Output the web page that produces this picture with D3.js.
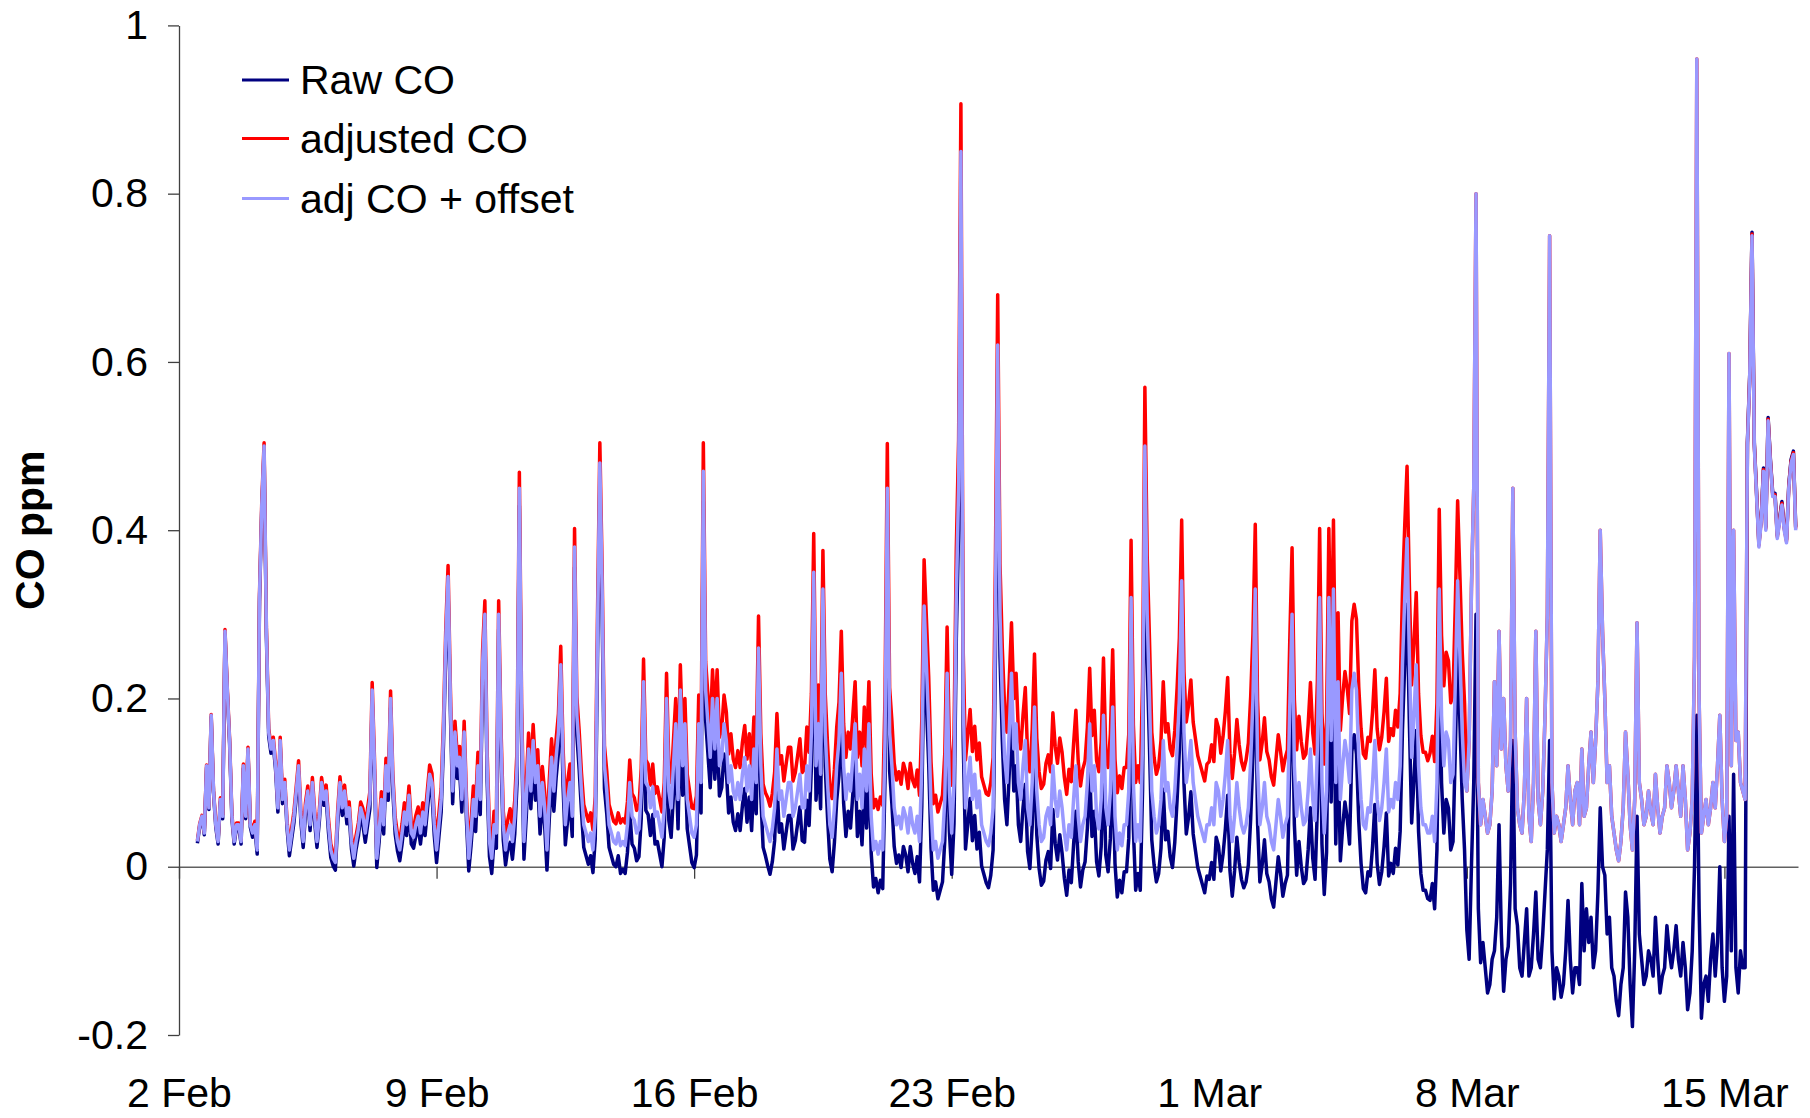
<!DOCTYPE html>
<html>
<head>
<meta charset="utf-8">
<script src="https://cdn.jsdelivr.net/npm/d3@7"></script>
<style>
  html, body { margin: 0; padding: 0; background: #ffffff; }
  svg { display: block; font-family: "Liberation Sans", Arial, Helvetica, sans-serif; }
</style>
</head>
<body>
<svg id="chart" width="1810" height="1118"></svg>
<script>
// ---- data -----------------------------------------------------------------
const seriesNames  = ["Raw CO", "adjusted CO", "adj CO + offset"];
const seriesColors = ["#000080", "#ff0000", "#9999ff"];

const yTickValues = [-0.2, 0, 0.2, 0.4, 0.6, 0.8, 1];
const yTickLabels = ["-0.2", "0", "0.2", "0.4", "0.6", "0.8", "1"];

const xTickDates  = ["2008-02-02", "2008-02-09", "2008-02-16", "2008-02-23", "2008-03-01", "2008-03-08", "2008-03-15"];
const xTickLabels = ["2 Feb", "9 Feb", "16 Feb", "23 Feb", "1 Mar", "8 Mar", "15 Mar"];
const xDomainDates = ["2008-02-02", "2008-03-17"];

// readings every 90 minutes, first one at 12:00 on 2 Feb
const firstReading = "2008-02-02 12:00";
const readingStepMinutes = 90;

// CO (ppm), one row per day
const rawCO = [
  0.028, 0.048, 0.058, 0.038, 0.118, 0.068, 0.178, 0.088,                                                   // 2 Feb
  0.047, 0.027, 0.077, 0.057, 0.277, 0.207, 0.147, 0.057, 0.027, 0.047, 0.047, 0.027, 0.117, 0.057, 0.137, 0.047, // 3 Feb
  0.035, 0.045, 0.015, 0.315, 0.425, 0.495, 0.275, 0.155, 0.135, 0.145, 0.115, 0.065, 0.145, 0.075, 0.095, 0.045, // 4 Feb
  0.013, 0.033, 0.053, 0.083, 0.113, 0.053, 0.023, 0.063, 0.083, 0.043, 0.093, 0.053, 0.023, 0.053, 0.093, 0.073, // 5 Feb
  0.081, 0.041, 0.011, 0.001, -0.004, 0.051, 0.091, 0.061, 0.081, 0.051, 0.061, 0.021, 0.001, 0.021, 0.036, 0.061, // 6 Feb
  0.049, 0.029, 0.049, 0.069, 0.199, 0.109, -0.001, 0.029, 0.069, 0.039, 0.109, 0.079, 0.189, 0.089, 0.039, 0.019, // 7 Feb
  0.007, 0.027, 0.052, 0.037, 0.072, 0.027, 0.022, 0.037, 0.047, 0.027, 0.052, 0.037, 0.067, 0.097, 0.087, 0.037, // 8 Feb
  0.005, 0.035, 0.065, 0.145, 0.255, 0.33, 0.185, 0.075, 0.145, 0.105, 0.115, 0.065, 0.145, 0.055, -0.005, 0.025,  // 9 Feb
  0.062, 0.042, 0.102, 0.062, 0.222, 0.282, 0.102, 0.012, -0.008, 0.032, 0.022, 0.282, 0.132, 0.032, 0.002, 0.022, // 10 Feb
  0.029, 0.009, 0.039, 0.099, 0.429, 0.149, 0.009, 0.059, 0.119, 0.069, 0.129, 0.079, 0.099, 0.039, 0.079, 0.049,  // 11 Feb
  -0.004, 0.056, 0.106, 0.066, 0.106, 0.136, 0.216, 0.096, 0.026, 0.056, 0.076, 0.036, 0.356, 0.156, 0.116, 0.066, // 12 Feb
  0.023, 0.013, 0.003, 0.013, -0.007, 0.033, 0.253, 0.453, 0.303, 0.093, 0.063, 0.023, 0.013, 0.003, 0.0, 0.013,    // 13 Feb
  -0.008, -0.003, -0.008, 0.017, 0.067, 0.027, 0.022, 0.007, 0.012, 0.057, 0.187, 0.067, 0.062, 0.037, 0.062, 0.027, // 14 Feb
  0.03, 0.015, 0.0, 0.035, 0.165, 0.055, 0.035, 0.085, 0.135, 0.045, 0.175, 0.085, 0.135, 0.045, 0.025, 0.005,       // 15 Feb
  -0.001, 0.014, 0.134, 0.064, 0.434, 0.174, 0.134, 0.094, 0.164, 0.104, 0.164, 0.084, 0.094, 0.134, 0.114, 0.064,  // 16 Feb
  0.083, 0.053, 0.043, 0.063, 0.043, 0.073, 0.093, 0.053, 0.083, 0.043, 0.103, 0.063, 0.223, 0.083, 0.023, 0.013,   // 17 Feb
  0.001, -0.009, 0.006, 0.031, 0.101, 0.041, 0.051, 0.021, 0.041, 0.061, 0.061, 0.021, 0.031, 0.051, 0.071, 0.031,  // 18 Feb
  0.029, 0.079, 0.049, 0.119, 0.309, 0.079, 0.129, 0.069, 0.289, 0.119, 0.059, 0.009, -0.006, 0.029, 0.079, 0.109,  // 19 Feb
  0.186, 0.076, 0.036, 0.066, 0.046, 0.086, 0.126, 0.036, 0.066, 0.026, 0.096, 0.046, 0.126, 0.016, -0.024, -0.014, // 20 Feb
  -0.031, -0.016, -0.026, 0.104, 0.404, 0.114, 0.074, 0.024, 0.004, 0.014, -0.001, 0.024, 0.014, -0.006, 0.024, 0.004, // 21 Feb
  -0.008, 0.012, -0.018, 0.072, 0.262, 0.192, 0.122, 0.022, -0.028, -0.018, -0.038, -0.028, -0.018, 0.032, 0.182, 0.042, // 22 Feb
  -0.009, 0.051, 0.271, 0.401, 0.801, 0.151, 0.021, 0.051, 0.081, 0.031, 0.061, 0.021, 0.041, 0.001, -0.009, -0.019, // 23 Feb
  -0.025, -0.01, 0.02, 0.25, 0.57, 0.25, 0.15, 0.08, 0.05, 0.11, 0.18, 0.09, 0.12, 0.05, 0.03, 0.07,               // 24 Feb
  0.098, 0.018, -0.002, 0.048, 0.138, 0.038, -0.002, -0.022, -0.017, 0.008, 0.018, -0.002, 0.068, 0.028, 0.008, 0.038, // 25 Feb
  0.016, -0.014, -0.034, -0.004, -0.019, 0.026, 0.066, 0.006, -0.024, -0.004, 0.006, 0.046, 0.116, 0.036, 0.066, 0.006, // 26 Feb
  -0.011, 0.024, 0.124, 0.014, -0.006, 0.034, 0.134, 0.004, -0.036, -0.016, -0.031, -0.006, -0.006, 0.034, 0.264, 0.044, // 27 Feb
  -0.028, -0.008, -0.028, 0.092, 0.442, 0.242, 0.142, 0.032, 0.002, -0.018, -0.008, 0.022, 0.092, 0.032, 0.042, 0.012, // 28 Feb
  -0.001, 0.029, 0.079, 0.139, 0.279, 0.099, 0.039, 0.059, 0.089, 0.039, 0.019, -0.001, -0.011, -0.021, -0.031, -0.011, // 29 Feb
  -0.015, 0.005, -0.015, 0.035, 0.025, -0.005, 0.015, 0.045, 0.085, -0.005, -0.035, -0.005, 0.035, 0.005, -0.015, -0.025, // 1 Mar
  -0.018, 0.002, 0.057, 0.132, 0.262, 0.052, -0.018, 0.002, 0.032, -0.008, -0.018, -0.038, -0.048, -0.018, 0.012, -0.008, // 2 Mar
  -0.035, -0.02, -0.01, 0.12, 0.23, 0.05, -0.01, 0.03, 0.0, -0.02, -0.015, 0.02, 0.07, 0.01, -0.015, 0.07,            // 3 Mar
  0.247, 0.027, -0.033, 0.017, 0.247, 0.077, 0.257, 0.027, 0.147, 0.007, 0.047, 0.077, 0.057, 0.027, 0.137, 0.157,    // 4 Mar
  0.134, 0.054, 0.004, -0.026, -0.031, -0.006, -0.011, 0.024, 0.074, 0.004, -0.021, -0.006, 0.024, 0.064, -0.011, 0.004, // 5 Mar
  -0.008, 0.022, 0.002, 0.042, 0.162, 0.242, 0.312, 0.172, 0.052, 0.102, 0.162, 0.042, -0.008, -0.028, -0.028, -0.038, // 6 Mar
  -0.04, -0.02, -0.05, 0.02, 0.25, 0.10, 0.04, 0.08, 0.07, 0.02, 0.03, 0.14, 0.26, 0.17, 0.08, 0.02,                // 7 Mar
  -0.075, -0.11, 0.0, 0.10, 0.30, -0.05, -0.114, -0.09, -0.12, -0.15, -0.14, -0.11, -0.10, -0.06, 0.05, -0.08,        // 8 Mar
  -0.148, -0.11, -0.095, -0.02, 0.15, -0.05, -0.07, -0.12, -0.13, -0.09, -0.05, -0.13, -0.12, -0.08, -0.03, -0.11,    // 9 Mar
  -0.12, -0.08, -0.03, 0.02, 0.15, -0.10, -0.157, -0.12, -0.13, -0.155, -0.14, -0.10, -0.04, -0.11, -0.15, -0.12,     // 10 Mar
  -0.12, -0.14, -0.02, -0.10, -0.05, -0.09, -0.06, -0.12, -0.10, -0.03, 0.07, 0.0, -0.01, -0.08, -0.06, -0.12,        // 11 Mar
  -0.13, -0.16, -0.177, -0.14, -0.12, -0.03, -0.06, -0.14, -0.19, -0.10, 0.06, -0.08, -0.11, -0.14, -0.13, -0.10,     // 12 Mar
  -0.11, -0.13, -0.06, -0.11, -0.15, -0.13, -0.12, -0.07, -0.10, -0.12, -0.10, -0.07, -0.11, -0.13, -0.09, -0.12,     // 13 Mar
  -0.17, -0.15, -0.10, 0.0, 0.18, -0.05, -0.18, -0.14, -0.13, -0.16, -0.11, -0.08, -0.13, -0.09, 0.0, -0.12,           // 14 Mar
  -0.16, -0.13, 0.06, -0.10, 0.11, -0.12, -0.15, -0.10, -0.12, -0.12, 0.504, 0.584, 0.754, 0.504, 0.444, 0.384,        // 15 Mar
  0.414, 0.474, 0.404, 0.534, 0.484, 0.444, 0.444, 0.394, 0.414, 0.434, 0.404, 0.389, 0.454, 0.484, 0.494, 0.404      // 16 Mar
];

const adjustedCO = [
  0.031, 0.051, 0.061, 0.041, 0.121, 0.071, 0.181, 0.091,                                                   // 2 Feb
  0.052, 0.032, 0.082, 0.062, 0.282, 0.212, 0.152, 0.062, 0.032, 0.052, 0.052, 0.032, 0.122, 0.062, 0.142, 0.052, // 3 Feb
  0.044, 0.054, 0.024, 0.324, 0.434, 0.504, 0.284, 0.164, 0.144, 0.154, 0.124, 0.074, 0.154, 0.084, 0.104, 0.054, // 4 Feb
  0.026, 0.046, 0.066, 0.096, 0.126, 0.066, 0.036, 0.076, 0.096, 0.056, 0.106, 0.066, 0.036, 0.066, 0.106, 0.086, // 5 Feb
  0.097, 0.057, 0.027, 0.017, 0.012, 0.067, 0.107, 0.077, 0.097, 0.067, 0.077, 0.037, 0.017, 0.037, 0.052, 0.077, // 6 Feb
  0.069, 0.049, 0.069, 0.089, 0.219, 0.129, 0.019, 0.049, 0.089, 0.059, 0.129, 0.099, 0.209, 0.109, 0.059, 0.039, // 7 Feb
  0.031, 0.051, 0.076, 0.061, 0.096, 0.051, 0.046, 0.061, 0.071, 0.051, 0.076, 0.061, 0.091, 0.121, 0.111, 0.061, // 8 Feb
  0.033, 0.063, 0.093, 0.173, 0.283, 0.358, 0.213, 0.103, 0.173, 0.133, 0.143, 0.093, 0.173, 0.083, 0.023, 0.053, // 9 Feb
  0.096, 0.076, 0.136, 0.096, 0.256, 0.316, 0.136, 0.046, 0.026, 0.066, 0.056, 0.316, 0.166, 0.066, 0.036, 0.056, // 10 Feb
  0.069, 0.049, 0.079, 0.139, 0.469, 0.189, 0.049, 0.099, 0.159, 0.109, 0.169, 0.119, 0.139, 0.079, 0.119, 0.089, // 11 Feb
  0.042, 0.102, 0.152, 0.112, 0.152, 0.182, 0.262, 0.142, 0.072, 0.102, 0.122, 0.082, 0.402, 0.202, 0.162, 0.112, // 12 Feb
  0.074, 0.064, 0.054, 0.064, 0.044, 0.084, 0.304, 0.504, 0.354, 0.144, 0.114, 0.074, 0.064, 0.054, 0.051, 0.064, // 13 Feb
  0.052, 0.057, 0.052, 0.077, 0.127, 0.087, 0.082, 0.067, 0.072, 0.117, 0.247, 0.127, 0.122, 0.097, 0.122, 0.087, // 14 Feb
  0.095, 0.08, 0.065, 0.10, 0.23, 0.12, 0.10, 0.15, 0.20, 0.11, 0.24, 0.15, 0.20, 0.11, 0.09, 0.07,               // 15 Feb
  0.069, 0.084, 0.204, 0.134, 0.504, 0.244, 0.204, 0.164, 0.234, 0.174, 0.234, 0.154, 0.164, 0.204, 0.184, 0.134, // 16 Feb
  0.158, 0.128, 0.118, 0.138, 0.118, 0.148, 0.168, 0.128, 0.158, 0.118, 0.178, 0.138, 0.298, 0.158, 0.098, 0.088, // 17 Feb
  0.082, 0.072, 0.087, 0.112, 0.182, 0.122, 0.132, 0.102, 0.122, 0.142, 0.142, 0.102, 0.112, 0.132, 0.152, 0.112, // 18 Feb
  0.116, 0.166, 0.136, 0.206, 0.396, 0.166, 0.216, 0.156, 0.376, 0.206, 0.146, 0.096, 0.081, 0.116, 0.166, 0.196, // 19 Feb
  0.28, 0.17, 0.13, 0.16, 0.14, 0.18, 0.22, 0.13, 0.16, 0.12, 0.19, 0.14, 0.22, 0.11, 0.07, 0.08,                 // 20 Feb
  0.068, 0.083, 0.073, 0.203, 0.503, 0.213, 0.173, 0.123, 0.103, 0.113, 0.098, 0.123, 0.113, 0.093, 0.123, 0.103, // 21 Feb
  0.095, 0.115, 0.085, 0.175, 0.365, 0.295, 0.225, 0.125, 0.075, 0.085, 0.065, 0.075, 0.085, 0.135, 0.285, 0.145, // 22 Feb
  0.097, 0.157, 0.377, 0.507, 0.907, 0.257, 0.127, 0.157, 0.187, 0.137, 0.167, 0.127, 0.147, 0.107, 0.097, 0.087, // 23 Feb
  0.085, 0.10, 0.13, 0.36, 0.68, 0.36, 0.26, 0.19, 0.16, 0.22, 0.29, 0.20, 0.23, 0.16, 0.14, 0.18,                // 24 Feb
  0.213, 0.133, 0.113, 0.163, 0.253, 0.153, 0.113, 0.093, 0.098, 0.123, 0.133, 0.113, 0.183, 0.143, 0.123, 0.153, // 25 Feb
  0.136, 0.106, 0.086, 0.116, 0.101, 0.146, 0.186, 0.126, 0.096, 0.116, 0.126, 0.166, 0.236, 0.156, 0.186, 0.126, // 26 Feb
  0.113, 0.148, 0.248, 0.138, 0.118, 0.158, 0.258, 0.128, 0.088, 0.108, 0.093, 0.118, 0.118, 0.158, 0.388, 0.168, // 27 Feb
  0.10, 0.12, 0.10, 0.22, 0.57, 0.37, 0.27, 0.16, 0.13, 0.11, 0.12, 0.15, 0.22, 0.16, 0.17, 0.14,                 // 28 Feb
  0.132, 0.162, 0.212, 0.272, 0.412, 0.232, 0.172, 0.192, 0.222, 0.172, 0.152, 0.132, 0.122, 0.112, 0.102, 0.122, // 29 Feb
  0.125, 0.145, 0.125, 0.175, 0.165, 0.135, 0.155, 0.185, 0.225, 0.135, 0.105, 0.135, 0.175, 0.145, 0.125, 0.115, // 1 Mar
  0.127, 0.147, 0.202, 0.277, 0.407, 0.197, 0.127, 0.147, 0.177, 0.137, 0.127, 0.107, 0.097, 0.127, 0.157, 0.137, // 2 Mar
  0.114, 0.129, 0.139, 0.269, 0.379, 0.199, 0.139, 0.179, 0.149, 0.129, 0.134, 0.169, 0.219, 0.159, 0.134, 0.219, // 3 Mar
  0.402, 0.182, 0.122, 0.172, 0.402, 0.232, 0.412, 0.182, 0.302, 0.162, 0.202, 0.232, 0.212, 0.182, 0.292, 0.312, // 4 Mar
  0.294, 0.214, 0.164, 0.134, 0.129, 0.154, 0.149, 0.184, 0.234, 0.164, 0.139, 0.154, 0.184, 0.224, 0.149, 0.164, // 5 Mar
  0.156, 0.186, 0.166, 0.206, 0.326, 0.406, 0.476, 0.336, 0.216, 0.266, 0.326, 0.206, 0.156, 0.136, 0.136, 0.126, // 6 Mar
  0.135, 0.155, 0.125, 0.195, 0.425, 0.275, 0.215, 0.255, 0.245, 0.195, 0.205, 0.315, 0.435, 0.345, 0.255, 0.195, // 7 Mar
  0.09, 0.15, 0.33, 0.45, 0.80, 0.10, 0.05, 0.08, 0.06, 0.04, 0.05, 0.09, 0.22, 0.12, 0.28, 0.14,                 // 8 Mar
  0.20, 0.12, 0.09, 0.15, 0.45, 0.16, 0.07, 0.05, 0.04, 0.09, 0.20, 0.06, 0.03, 0.10, 0.28, 0.08,                 // 9 Mar
  0.05, 0.09, 0.18, 0.30, 0.75, 0.10, 0.04, 0.06, 0.05, 0.03, 0.05, 0.07, 0.12, 0.08, 0.05, 0.09,                 // 10 Mar
  0.10, 0.05, 0.14, 0.06, 0.07, 0.12, 0.16, 0.10, 0.15, 0.22, 0.40, 0.28, 0.20, 0.10, 0.12, 0.06,                 // 11 Mar
  0.04, 0.02, 0.007, 0.03, 0.07, 0.16, 0.11, 0.05, 0.02, 0.08, 0.29, 0.10, 0.08, 0.05, 0.06, 0.09,                // 12 Mar
  0.065, 0.05, 0.11, 0.07, 0.04, 0.06, 0.07, 0.12, 0.10, 0.07, 0.09, 0.12, 0.09, 0.06, 0.12, 0.08,                // 13 Mar
  0.02, 0.04, 0.08, 0.25, 0.96, 0.20, 0.04, 0.06, 0.08, 0.05, 0.07, 0.10, 0.07, 0.12, 0.18, 0.08,                 // 14 Mar
  0.03, 0.06, 0.61, 0.12, 0.40, 0.15, 0.16, 0.10, 0.09, 0.08, 0.502, 0.582, 0.752, 0.502, 0.442, 0.382,           // 15 Mar
  0.412, 0.472, 0.402, 0.532, 0.482, 0.442, 0.442, 0.392, 0.412, 0.432, 0.402, 0.387, 0.452, 0.482, 0.492, 0.402  // 16 Mar
];

const offsetCO = [
  0.03, 0.05, 0.06, 0.04, 0.12, 0.07, 0.18, 0.09,                                                           // 2 Feb
  0.05, 0.03, 0.08, 0.06, 0.28, 0.21, 0.15, 0.06, 0.03, 0.05, 0.05, 0.03, 0.12, 0.06, 0.14, 0.05,           // 3 Feb
  0.04, 0.05, 0.02, 0.32, 0.43, 0.50, 0.28, 0.16, 0.14, 0.15, 0.12, 0.07, 0.15, 0.08, 0.10, 0.05,           // 4 Feb
  0.02, 0.04, 0.06, 0.09, 0.12, 0.06, 0.03, 0.07, 0.09, 0.05, 0.10, 0.06, 0.03, 0.06, 0.10, 0.08,           // 5 Feb
  0.09, 0.05, 0.02, 0.01, 0.005, 0.06, 0.10, 0.07, 0.09, 0.06, 0.07, 0.03, 0.01, 0.03, 0.045, 0.07,         // 6 Feb
  0.06, 0.04, 0.06, 0.08, 0.21, 0.12, 0.01, 0.04, 0.08, 0.05, 0.12, 0.09, 0.20, 0.10, 0.05, 0.03,           // 7 Feb
  0.02, 0.04, 0.065, 0.05, 0.085, 0.04, 0.035, 0.05, 0.06, 0.04, 0.065, 0.05, 0.08, 0.11, 0.10, 0.05,       // 8 Feb
  0.02, 0.05, 0.08, 0.16, 0.27, 0.345, 0.20, 0.09, 0.16, 0.12, 0.13, 0.08, 0.16, 0.07, 0.01, 0.04,          // 9 Feb
  0.08, 0.06, 0.12, 0.08, 0.24, 0.30, 0.12, 0.03, 0.01, 0.05, 0.04, 0.30, 0.15, 0.05, 0.02, 0.04,           // 10 Feb
  0.05, 0.03, 0.06, 0.12, 0.45, 0.17, 0.03, 0.08, 0.14, 0.09, 0.15, 0.10, 0.12, 0.06, 0.10, 0.07,           // 11 Feb
  0.02, 0.08, 0.13, 0.09, 0.13, 0.16, 0.24, 0.12, 0.05, 0.08, 0.10, 0.06, 0.38, 0.18, 0.14, 0.09,           // 12 Feb
  0.05, 0.04, 0.03, 0.04, 0.02, 0.06, 0.28, 0.48, 0.33, 0.12, 0.09, 0.05, 0.04, 0.03, 0.027, 0.04,          // 13 Feb
  0.025, 0.03, 0.025, 0.05, 0.10, 0.06, 0.055, 0.04, 0.045, 0.09, 0.22, 0.10, 0.095, 0.07, 0.095, 0.06,     // 14 Feb
  0.065, 0.05, 0.035, 0.07, 0.20, 0.09, 0.07, 0.12, 0.17, 0.08, 0.21, 0.12, 0.17, 0.08, 0.06, 0.04,         // 15 Feb
  0.035, 0.05, 0.17, 0.10, 0.47, 0.21, 0.17, 0.13, 0.20, 0.14, 0.20, 0.12, 0.13, 0.17, 0.15, 0.10,          // 16 Feb
  0.12, 0.09, 0.08, 0.10, 0.08, 0.11, 0.13, 0.09, 0.12, 0.08, 0.14, 0.10, 0.26, 0.12, 0.06, 0.05,           // 17 Feb
  0.04, 0.03, 0.045, 0.07, 0.14, 0.08, 0.09, 0.06, 0.08, 0.10, 0.10, 0.06, 0.07, 0.09, 0.11, 0.07,          // 18 Feb
  0.07, 0.12, 0.09, 0.16, 0.35, 0.12, 0.17, 0.11, 0.33, 0.16, 0.10, 0.05, 0.035, 0.07, 0.12, 0.15,          // 19 Feb
  0.23, 0.12, 0.08, 0.11, 0.09, 0.13, 0.17, 0.08, 0.11, 0.07, 0.14, 0.09, 0.17, 0.06, 0.02, 0.03,           // 20 Feb
  0.015, 0.03, 0.02, 0.15, 0.45, 0.16, 0.12, 0.07, 0.05, 0.06, 0.045, 0.07, 0.06, 0.04, 0.07, 0.05,         // 21 Feb
  0.04, 0.06, 0.03, 0.12, 0.31, 0.24, 0.17, 0.07, 0.02, 0.03, 0.01, 0.02, 0.03, 0.08, 0.23, 0.09,           // 22 Feb
  0.04, 0.10, 0.32, 0.45, 0.85, 0.20, 0.07, 0.10, 0.13, 0.08, 0.11, 0.07, 0.09, 0.05, 0.04, 0.03,           // 23 Feb
  0.025, 0.04, 0.07, 0.30, 0.62, 0.30, 0.20, 0.13, 0.10, 0.16, 0.23, 0.14, 0.17, 0.10, 0.08, 0.12,          // 24 Feb
  0.15, 0.07, 0.05, 0.10, 0.19, 0.09, 0.05, 0.03, 0.035, 0.06, 0.07, 0.05, 0.12, 0.08, 0.06, 0.09,          // 25 Feb
  0.07, 0.04, 0.02, 0.05, 0.035, 0.08, 0.12, 0.06, 0.03, 0.05, 0.06, 0.10, 0.17, 0.09, 0.12, 0.06,          // 26 Feb
  0.045, 0.08, 0.18, 0.07, 0.05, 0.09, 0.19, 0.06, 0.02, 0.04, 0.025, 0.05, 0.05, 0.09, 0.32, 0.10,         // 27 Feb
  0.03, 0.05, 0.03, 0.15, 0.50, 0.30, 0.20, 0.09, 0.06, 0.04, 0.05, 0.08, 0.15, 0.09, 0.10, 0.07,           // 28 Feb
  0.06, 0.09, 0.14, 0.20, 0.34, 0.16, 0.10, 0.12, 0.15, 0.10, 0.08, 0.06, 0.05, 0.04, 0.03, 0.05,           // 29 Feb
  0.05, 0.07, 0.05, 0.10, 0.09, 0.06, 0.08, 0.11, 0.15, 0.06, 0.03, 0.06, 0.10, 0.07, 0.05, 0.04,           // 1 Mar
  0.05, 0.07, 0.125, 0.20, 0.33, 0.12, 0.05, 0.07, 0.10, 0.06, 0.05, 0.03, 0.02, 0.05, 0.08, 0.06,          // 2 Mar
  0.035, 0.05, 0.06, 0.19, 0.30, 0.12, 0.06, 0.10, 0.07, 0.05, 0.055, 0.09, 0.14, 0.08, 0.055, 0.14,        // 3 Mar
  0.32, 0.10, 0.04, 0.09, 0.32, 0.15, 0.33, 0.10, 0.22, 0.08, 0.12, 0.15, 0.13, 0.10, 0.21, 0.23,           // 4 Mar
  0.21, 0.13, 0.08, 0.05, 0.045, 0.07, 0.065, 0.10, 0.15, 0.08, 0.055, 0.07, 0.10, 0.14, 0.065, 0.08,       // 5 Mar
  0.07, 0.10, 0.08, 0.12, 0.24, 0.32, 0.39, 0.25, 0.13, 0.18, 0.24, 0.12, 0.07, 0.05, 0.05, 0.04,           // 6 Mar
  0.04, 0.06, 0.03, 0.10, 0.33, 0.18, 0.12, 0.16, 0.15, 0.10, 0.11, 0.22, 0.34, 0.25, 0.16, 0.10,           // 7 Mar
  0.09, 0.15, 0.33, 0.45, 0.80, 0.10, 0.05, 0.08, 0.06, 0.04, 0.05, 0.09, 0.22, 0.12, 0.28, 0.14,           // 8 Mar
  0.20, 0.12, 0.09, 0.15, 0.45, 0.16, 0.07, 0.05, 0.04, 0.09, 0.20, 0.06, 0.03, 0.10, 0.28, 0.08,           // 9 Mar
  0.05, 0.09, 0.18, 0.30, 0.75, 0.10, 0.04, 0.06, 0.05, 0.03, 0.05, 0.07, 0.12, 0.08, 0.05, 0.09,           // 10 Mar
  0.10, 0.05, 0.14, 0.06, 0.07, 0.12, 0.16, 0.10, 0.15, 0.22, 0.40, 0.28, 0.20, 0.10, 0.12, 0.06,           // 11 Mar
  0.04, 0.02, 0.007, 0.03, 0.07, 0.16, 0.11, 0.05, 0.02, 0.08, 0.29, 0.10, 0.08, 0.05, 0.06, 0.09,          // 12 Mar
  0.065, 0.05, 0.11, 0.07, 0.04, 0.06, 0.07, 0.12, 0.10, 0.07, 0.09, 0.12, 0.09, 0.06, 0.12, 0.08,          // 13 Mar
  0.02, 0.04, 0.08, 0.25, 0.96, 0.20, 0.04, 0.06, 0.08, 0.05, 0.07, 0.10, 0.07, 0.12, 0.18, 0.08,           // 14 Mar
  0.03, 0.06, 0.61, 0.12, 0.40, 0.15, 0.16, 0.10, 0.09, 0.08, 0.50, 0.58, 0.75, 0.50, 0.44, 0.38,           // 15 Mar
  0.41, 0.47, 0.40, 0.53, 0.48, 0.44, 0.44, 0.39, 0.41, 0.43, 0.40, 0.385, 0.45, 0.48, 0.49, 0.40           // 16 Mar
];

// ---- layout ---------------------------------------------------------------
const plot = { left: 179, right: 1798, top: 25.4, bottom: 1035 };
const FONT = 41;

const parseDay = d3.timeParse("%Y-%m-%d");
const parseStamp = d3.timeParse("%Y-%m-%d %H:%M");
const t0 = parseStamp(firstReading);
const times = rawCO.map((_, i) => d3.timeMinute.offset(t0, i * readingStepMinutes));

const series = [rawCO, adjustedCO, offsetCO].map((vals, k) => ({
  name: seriesNames[k],
  color: seriesColors[k],
  points: vals.map((v, i) => ({ t: times[i], v }))
}));

const x = d3.scaleTime()
  .domain(xDomainDates.map(parseDay))
  .range([plot.left, plot.right]);

const y = d3.scaleLinear()
  .domain([-0.2, 1])
  .range([plot.bottom, plot.top]);

const svg = d3.select("#chart");

// ---- axes -----------------------------------------------------------------
const yAxis = d3.axisLeft(y)
  .tickValues(yTickValues)
  .tickFormat((d, i) => yTickLabels[i])
  .tickSize(11)
  .tickSizeOuter(0)
  .tickPadding(20);

const gy = svg.append("g")
  .attr("transform", `translate(${plot.left},0)`)
  .call(yAxis);
gy.attr("font-family", null).attr("font-size", null);
gy.select(".domain").attr("stroke", "#404040").attr("stroke-width", 1.3);
gy.selectAll(".tick line").attr("stroke", "#404040").attr("stroke-width", 1.3);
gy.selectAll(".tick text").attr("font-size", FONT).attr("fill", "#000");

const xTicks = xTickDates.map(parseDay);
const xAxis = d3.axisBottom(x)
  .tickValues(xTicks)
  .tickFormat((d, i) => xTickLabels[i])
  .tickSize(12)
  .tickSizeOuter(0);

const gx = svg.append("g")
  .attr("transform", `translate(0,${y(0)})`)
  .call(xAxis);
gx.attr("font-family", null).attr("font-size", null);
gx.select(".domain").attr("stroke", "#606060").attr("stroke-width", 1.3);
gx.selectAll(".tick line").attr("stroke", "#404040").attr("stroke-width", 1.3);
// date labels sit below the plot area, not next to the zero line
gx.selectAll(".tick text")
  .attr("font-size", FONT)
  .attr("fill", "#000")
  .attr("y", plot.bottom - y(0) + 43)
  .attr("dy", "0.71em");

// ---- series ---------------------------------------------------------------
const line = d3.line()
  .x(d => x(d.t))
  .y(d => y(d.v));

svg.append("g")
  .selectAll("path")
  .data(series)
  .join("path")
  .attr("d", d => line(d.points))
  .attr("fill", "none")
  .attr("stroke", d => d.color)
  .attr("stroke-width", 3.5)
  .attr("stroke-linejoin", "round");

// ---- legend ---------------------------------------------------------------
const legendRows = [80, 138.5, 198.5];
const legend = svg.append("g");
series.forEach((s, i) => {
  legend.append("line")
    .attr("x1", 242).attr("x2", 289)
    .attr("y1", legendRows[i]).attr("y2", legendRows[i])
    .attr("stroke", s.color).attr("stroke-width", 3);
  legend.append("text")
    .attr("x", 300).attr("y", legendRows[i])
    .attr("dy", "0.35em")
    .attr("font-size", FONT)
    .attr("fill", "#000")
    .text(s.name);
});

// ---- axis title -----------------------------------------------------------
svg.append("text")
  .attr("transform", `translate(44,${(plot.top + plot.bottom) / 2}) rotate(-90)`)
  .attr("text-anchor", "middle")
  .attr("font-size", FONT)
  .attr("font-weight", "bold")
  .attr("fill", "#000")
  .text("CO ppm");
</script>
</body>
</html>
